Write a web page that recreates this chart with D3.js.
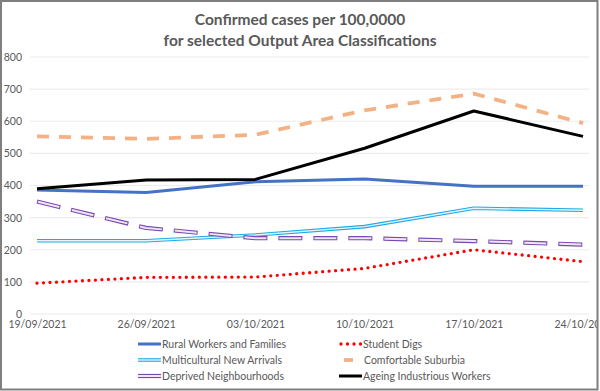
<!DOCTYPE html>
<html>
<head>
<meta charset="utf-8">
<script src="https://cdn.jsdelivr.net/npm/d3@7"></script>
<style>
  body { margin: 0; background: #fff; }
  svg { display: block; font-family: Lato, "Liberation Sans", sans-serif; }
</style>
</head>
<body>
<svg id="chart" width="600" height="391"></svg>
<script>
// Data
var dates = ["19/09/2021", "26/09/2021", "03/10/2021", "10/10/2021", "17/10/2021", "24/10/2021"];
var yTicks = [0, 100, 200, 300, 400, 500, 600, 700, 800];

var rural = [386, 378, 412, 420, 398, 398];
var student = [96, 114, 115, 142, 200, 163];
var multicultural = [228, 228, 246, 272, 329, 323];
var comfortable = [553, 545, 558, 634, 686, 594];
var deprived = [350, 268, 236, 236, 227, 216];
var ageing = [390, 417, 419, 516, 632, 553];

var seriesNames = ["Rural Workers and Families", "Student Digs", "Multicultural New Arrivals",
                   "Comfortable Suburbia", "Deprived Neighbourhoods", "Ageing Industrious Workers"];

var svg = d3.select("#chart");
var textColor = "#595959";

var x = d3.scalePoint().domain(dates).range([37, 583]);
var y = d3.scaleLinear().domain([0, 800]).range([314, 57]);

// Title
var title = svg.append("text")
    .attr("text-anchor", "middle")
    .attr("fill", textColor)
    .attr("font-weight", "bold")
    .attr("font-size", 15.5);
title.append("tspan").attr("x", 300).attr("y", 25).text("Confirmed cases per 100,0000");
title.append("tspan").attr("x", 300).attr("y", 46).text("for selected Output Area Classifications");

// Gridlines
svg.append("g").selectAll("line")
    .data(yTicks)
    .enter().append("line")
    .attr("x1", 30).attr("x2", 589)
    .attr("y1", function (d) { return y(d); })
    .attr("y2", function (d) { return y(d); })
    .attr("stroke", "#ececec")
    .attr("stroke-width", 1.2);

// Axes
var yAxis = svg.append("g")
    .attr("transform", "translate(30,0)")
    .call(d3.axisLeft(y).tickValues(yTicks).tickSize(0).tickPadding(8));
var xAxis = svg.append("g")
    .attr("transform", "translate(0,314)")
    .call(d3.axisBottom(x).tickSize(0).tickPadding(7));
[yAxis, xAxis].forEach(function (g) {
    g.select(".domain").remove();
    g.selectAll("text").attr("fill", textColor).attr("font-size", 10.5)
        .attr("font-family", "Lato, 'Liberation Sans', sans-serif");
});

var line = d3.line()
    .x(function (d, i) { return x(dates[i]); })
    .y(function (d) { return y(d); });

// Line styles, each a list of strokes painted on top of each other
var styles = [
    [{ stroke: "#4472C4", width: 3 }],
    [{ stroke: "#FF0000", width: 3.3, dash: "0 6.5", cap: "round" }],
    [{ stroke: "#1eaae6", width: 3.6 }, { stroke: "#e4f6fd", width: 1.4 }],
    [{ stroke: "#F4B183", width: 3.8, dash: "12 10" }],
    [{ stroke: "#7a48b0", width: 4.2, dash: "24 11" },
     { stroke: "#eee6f6", width: 2, dash: "22 13", offset: -1 }],
    [{ stroke: "#000000", width: 3 }]
];
var values = [rural, student, multicultural, comfortable, deprived, ageing];

var lines = svg.append("g");
values.forEach(function (vals, k) {
    styles[k].forEach(function (s) {
        lines.append("path")
            .datum(vals)
            .attr("d", line)
            .attr("fill", "none")
            .attr("stroke", s.stroke)
            .attr("stroke-width", s.width)
            .attr("stroke-dasharray", s.dash || null)
            .attr("stroke-dashoffset", s.offset || 0)
            .attr("stroke-linecap", s.cap || "butt")
            .attr("stroke-linejoin", "round");
    });
});

// Legend
var legendCols = [138, 339];
var legendRows = [344, 360, 376];
var legend = svg.append("g");
seriesNames.forEach(function (name, k) {
    var lx = legendCols[k % 2], ly = legendRows[Math.floor(k / 2)];
    var item = legend.append("g");
    var isDash = k === 3;
    styles[k].forEach(function (s) {
        item.append("line")
            .attr("x1", isDash ? lx + 5 : lx + (s.cap ? 2 : 0))
            .attr("x2", isDash ? lx + 14 : lx + 23)
            .attr("y1", ly).attr("y2", ly)
            .attr("stroke", s.stroke)
            .attr("stroke-width", s.width)
            .attr("stroke-dasharray", s.cap ? s.dash : null)
            .attr("stroke-linecap", s.cap || "butt");
    });
    item.append("text")
        .attr("x", lx + (isDash ? 25 : 24))
        .attr("y", ly)
        .attr("dy", "0.35em")
        .attr("fill", textColor)
        .attr("font-size", 10.5)
        .text(name);
});

// Frame
svg.append("rect").attr("x", 598).attr("y", 0).attr("width", 2).attr("height", 391).attr("fill", "#fff");
svg.append("rect")
    .attr("x", 1).attr("y", 1).attr("width", 596.5).attr("height", 388.5)
    .attr("fill", "none")
    .attr("stroke", "#7f7f7f")
    .attr("stroke-width", 2);
</script>
</body>
</html>
